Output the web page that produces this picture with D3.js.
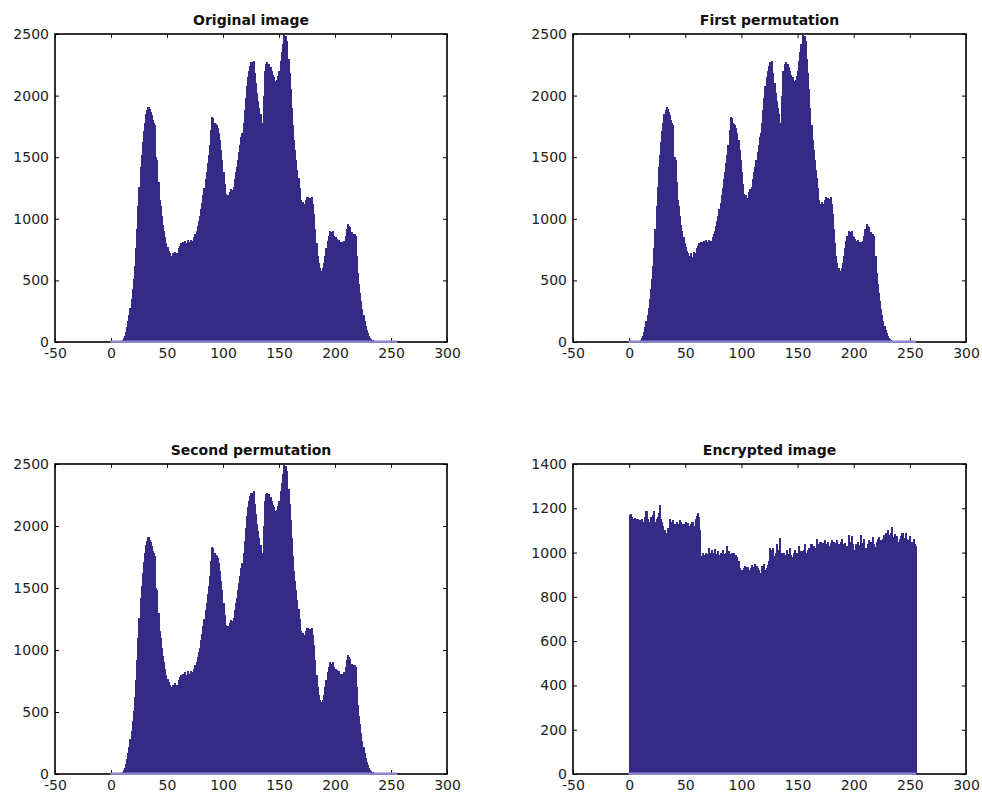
<!DOCTYPE html>
<html>
<head>
<meta charset="utf-8">
<title>Image histograms</title>
<script src="https://cdn.jsdelivr.net/npm/d3@7"></script>
<style>
  body { margin: 0; background: #fff; }
  text { font-family: "DejaVu Sans", sans-serif; }
</style>
</head>
<body>
<svg id="chart" width="982" height="800"></svg>
<script>
// grey levels 0..255
var levels = d3.range(256);

// pixel count per grey level of the plain image
// (a permutation only moves pixels, so both permuted images have the same counts)
var plainCounts = [
  0,0,0,0,0,0,1,2,4,8,15,30,50,80,120,170,
  220,280,350,430,510,620,760,920,1100,1260,1420,1520,1620,1710,1780,1850,
  1880,1910,1890,1870,1840,1800,1780,1760,1500,1480,1300,1150,1100,1020,950,900,
  850,800,770,740,720,690,700,720,690,730,720,700,760,780,800,760,
  810,790,820,800,830,810,800,830,820,800,850,880,900,940,980,1020,
  1080,1130,1190,1250,1320,1380,1450,1520,1600,1720,1830,1820,1780,1770,1760,1740,
  1700,1640,1560,1480,1380,1280,1200,1170,1190,1170,1220,1240,1230,1260,1320,1380,
  1420,1480,1540,1600,1660,1700,1780,1880,1980,2080,2150,2200,2240,2270,2220,2280,
  2180,2100,2020,1960,1900,1850,1780,1670,2000,2200,2260,2270,2250,2260,2230,2200,
  2170,2150,2120,2100,2130,2160,2200,2280,2350,2420,2490,2470,2480,2440,2300,2180,
  2050,1900,1760,1640,1560,1480,1400,1330,1250,1150,1120,1140,1080,1120,1150,1180,
  1130,1170,1160,1180,1120,1040,920,800,700,640,600,580,560,600,640,700,
  760,820,860,900,890,880,900,860,850,840,820,830,810,800,810,800,
  820,860,920,960,940,930,880,890,870,880,860,700,560,470,400,330,
  270,220,170,130,95,70,50,35,25,18,12,8,6,5,4,3,
  3,2,2,2,1,1,1,1,1,0,1,0,0,1,0,0
];

// pixel count per grey level of the encrypted image
var cipherCounts = [
  1170,1175,1160,1150,1145,1155,1140,1150,1135,1145,1130,1150,1140,1120,1160,1190,
  1150,1140,1130,1160,1145,1170,1190,1140,1150,1160,1180,1216,1150,1140,1120,1100,
  1090,1080,1110,1100,1150,1140,1135,1145,1130,1120,1140,1130,1125,1145,1140,1120,
  1130,1110,1140,1125,1135,1120,1110,1130,1140,1120,1100,1150,1165,1180,1160,1100,
  985,1000,975,990,1000,985,995,1020,1000,1010,990,1000,1015,980,995,1005,
  990,1000,985,1010,995,980,1000,1030,1005,995,990,1000,985,1000,975,990,
  980,960,930,900,920,910,930,940,925,935,920,915,930,945,925,935,
  950,940,930,920,910,870,940,930,950,920,930,945,960,1020,1010,1000,
  1020,985,1000,1040,990,1010,1065,1000,980,1000,975,990,1010,985,995,1020,
  990,980,1000,1010,990,1000,985,1030,995,1005,1000,1010,1040,1000,995,1010,
  1020,1000,1040,1010,1030,995,1020,1060,1030,1040,1050,1035,1045,1040,1055,1035,
  1040,1050,1030,1045,1055,1040,1050,1030,1045,1055,1040,1025,1050,1060,1040,1035,
  1045,1010,1030,1080,1050,1020,1075,1040,1010,1000,1040,1050,1020,1035,1080,1045,
  1030,1060,1020,1005,1040,1055,1030,1050,1045,1070,1040,1025,1050,1060,1070,1040,
  1055,1045,1060,1080,1090,1070,1100,1080,1060,1090,1115,1070,1085,1040,1075,1010,
  1050,1060,1075,1090,1045,1065,1090,1060,1055,1040,1075,1050,1045,1060,1040,1030
];

var xTicks = [-50, 0, 50, 100, 150, 200, 250, 300];
var plainYTicks = [0, 500, 1000, 1500, 2000, 2500];
var cipherYTicks = [0, 200, 400, 600, 800, 1000, 1200, 1400];
var titles = ["Original image", "First permutation", "Second permutation", "Encrypted image"];

var panels = [
  {title: titles[0], counts: plainCounts, yTicks: plainYTicks, left: 55, top: 34, w: 392, h: 308},
  {title: titles[1], counts: plainCounts, yTicks: plainYTicks, left: 573, top: 34, w: 393, h: 308},
  {title: titles[2], counts: plainCounts, yTicks: plainYTicks, left: 55, top: 464, w: 392, h: 310},
  {title: titles[3], counts: cipherCounts, yTicks: cipherYTicks, left: 573, top: 464, w: 393, h: 310}
];

var barColor = "#352a86";
var svg = d3.select("#chart");

panels.forEach(function(p) {
  var g = svg.append("g").attr("transform", "translate(" + p.left + "," + p.top + ")");

  var x = d3.scaleLinear().domain([-50, 300]).range([0, p.w]);
  var y = d3.scaleLinear().domain([0, d3.max(p.yTicks)]).range([p.h, 0]);

  // inward ticks on all four sides, like matlab
  var fmt = function(d) { return String(d); };
  g.append("g").attr("transform", "translate(0," + p.h + ")")
    .call(d3.axisBottom(x).tickValues(xTicks).tickFormat(fmt).tickSizeInner(-4).tickSizeOuter(0).tickPadding(6));
  g.append("g")
    .call(d3.axisLeft(y).tickValues(p.yTicks).tickFormat(fmt).tickSizeInner(-4).tickSizeOuter(0).tickPadding(6));
  g.append("g")
    .call(d3.axisTop(x).tickValues(xTicks).tickFormat("").tickSizeInner(-4).tickSizeOuter(0));
  g.append("g").attr("transform", "translate(" + p.w + ",0)")
    .call(d3.axisRight(y).tickValues(p.yTicks).tickFormat("").tickSizeInner(-4).tickSizeOuter(0));

  g.selectAll(".domain").remove();
  g.selectAll(".tick line").attr("stroke", "#000");
  g.selectAll(".tick text").attr("font-size", 14).attr("fill", "#222")
    .style("font-family", "'DejaVu Sans', sans-serif");

  g.append("rect")
    .attr("width", p.w).attr("height", p.h)
    .attr("fill", "none").attr("stroke", "#000").attr("stroke-width", 1.6);

  // histogram bars, one per grey level
  g.selectAll("rect.bar")
    .data(levels)
    .enter().append("rect")
      .attr("class", "bar")
      .attr("x", function(d) { return x(d - 0.5); })
      .attr("width", function(d) { return x(d + 0.5) - x(d - 0.5) + 1; })
      .attr("y", function(d) { return y(p.counts[d]); })
      .attr("height", function(d) { return p.h - y(p.counts[d]); })
      .attr("fill", barColor)
      .attr("shape-rendering", "crispEdges");

  // bar edges along the baseline
  g.append("rect")
    .attr("x", x(-0.5)).attr("y", p.h - 1.5)
    .attr("width", x(255.5) - x(-0.5)).attr("height", 2.5)
    .attr("fill", "#8c86cc");

  g.append("text")
    .attr("x", p.w / 2).attr("y", -9)
    .attr("text-anchor", "middle")
    .attr("font-size", 14).attr("font-weight", "bold").attr("fill", "#111")
    .text(p.title);
});
</script>
</body>
</html>
